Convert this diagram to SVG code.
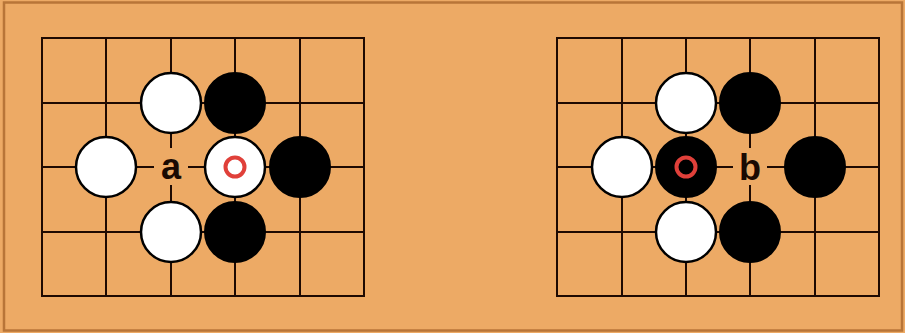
<svg xmlns="http://www.w3.org/2000/svg" width="905" height="333" viewBox="0 0 905 333">
<style>
.grid{stroke:#1e0a02;stroke-width:2;fill:none}
.w{fill:#ffffff;stroke:#000;stroke-width:2.5}
.b{fill:#000;stroke:#000;stroke-width:2}
.mark{fill:none;stroke:#e0403a;stroke-width:4}
.gap{fill:#EDAA65}
.lbl{font-family:"Liberation Sans",Arial,sans-serif;font-size:36px;font-weight:bold;fill:#1a0a02;text-anchor:middle}
</style>
<rect x="0" y="0" width="905" height="333" fill="#EDAA65"/>
<rect x="4" y="2.5" width="898" height="328" fill="#EDAA65" stroke="#b87538" stroke-width="2.5"/>
<g id="board-left">
<path class="grid" d="M42,38H364V296H42Z M106,38V296 M171,38V296 M235,38V296 M300,38V296 M42,103H364 M42,167H364 M42,232H364"/>
<rect class="gap" x="154" y="148" width="34" height="37"/>
<text class="lbl" x="171" y="179">a</text>
<circle id="lw1" class="w" cx="171" cy="103" r="30"/>
<circle id="lb1" class="b" cx="235" cy="103" r="30"/>
<circle id="lw2" class="w" cx="106" cy="167" r="30"/>
<circle id="lw3" class="w" cx="235" cy="167" r="30"/>
<circle class="mark" cx="235" cy="167" r="9.5"/>
<circle id="lb2" class="b" cx="300" cy="167" r="30"/>
<circle id="lw4" class="w" cx="171" cy="232" r="30"/>
<circle id="lb3" class="b" cx="235" cy="232" r="30"/>
</g>
<g id="board-right">
<path class="grid" d="M557,38H879V296H557Z M622,38V296 M686,38V296 M750,38V296 M815,38V296 M557,103H879 M557,167H879 M557,232H879"/>
<rect class="gap" x="733" y="148" width="34" height="37"/>
<text class="lbl" x="750" y="180">b</text>
<circle id="rw1" class="w" cx="686" cy="103" r="30"/>
<circle id="rb1" class="b" cx="750" cy="103" r="30"/>
<circle id="rw2" class="w" cx="622" cy="167" r="30"/>
<circle id="rb2" class="b" cx="686" cy="167" r="30"/>
<circle class="mark" cx="686" cy="167" r="9.5"/>
<circle id="rb3" class="b" cx="815" cy="167" r="30"/>
<circle id="rw3" class="w" cx="686" cy="232" r="30"/>
<circle id="rb4" class="b" cx="750" cy="232" r="30"/>
</g>
</svg>
